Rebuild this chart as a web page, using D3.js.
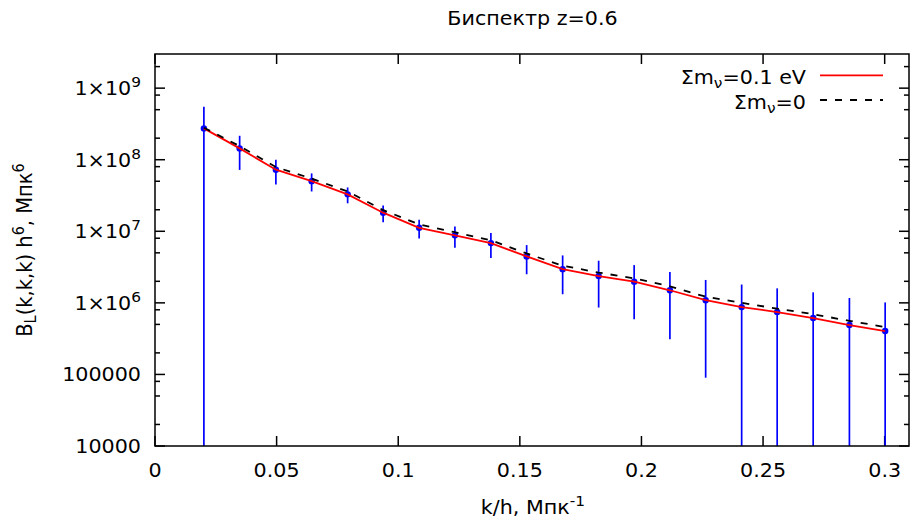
<!DOCTYPE html>
<html>
<head>
<meta charset="utf-8">
<script src="https://cdn.jsdelivr.net/npm/d3@7"></script>
<style>
  body { margin: 0; background: #fff; }
  text { font-family: "DejaVu Sans", sans-serif; fill: #000; }
</style>
</head>
<body>
<div id="chart"></div>
<script>
// k/h values (h/Mpc)
const kValues = [0.0201, 0.0348, 0.0497, 0.0644, 0.0792, 0.0938, 0.1086, 0.1233, 0.1381, 0.1528,
                 0.1676, 0.1824, 0.1970, 0.2117, 0.2264, 0.2412, 0.2558, 0.2706, 0.2855, 0.3002];
// bispectrum, sum m_nu = 0.1 eV
const bispecNu = [2.74e8, 1.44e8, 7.25e7, 5.02e7, 3.28e7, 1.82e7, 1.12e7, 8.77e6, 6.84e6, 4.46e6,
                  2.96e6, 2.37e6, 1.98e6, 1.50e6, 1.09e6, 8.73e5, 7.44e5, 6.13e5, 4.90e5, 4.04e5];
// error bars (symmetric, +-)
const bispecNuErr = [2.76e8, 7.2e7, 2.75e7, 1.42e7, 8.2e6, 4.8e6, 3.3e6, 2.9e6, 2.6e6, 1.95e6,
                     1.64e6, 1.51e6, 1.39e6, 1.19e6, 1.0e6, 9.3e5, 8.5e5, 7.9e5, 6.8e5, 6.1e5];
// bispectrum, sum m_nu = 0
const bispecZero = [2.80e8, 1.55e8, 7.9e7, 5.45e7, 3.6e7, 1.98e7, 1.25e7, 9.7e6, 7.5e6, 4.9e6,
                    3.3e6, 2.65e6, 2.2e6, 1.7e6, 1.22e6, 1.0e6, 8.3e5, 6.95e5, 5.6e5, 4.6e5];

const xTicks = [0, 0.05, 0.1, 0.15, 0.2, 0.25, 0.3];
const xTickLabels = ["0", "0.05", "0.1", "0.15", "0.2", "0.25", "0.3"];
const yTicks = [1e4, 1e5, 1e6, 1e7, 1e8, 1e9];
const yTickLabels = [["10000", ""], ["100000", ""], ["1×10", "6"], ["1×10", "7"], ["1×10", "8"], ["1×10", "9"]];
const yMinorMult = [2, 5, 8];

const width = 911, height = 519;
const mLeft = 155, mRight = 909, mTop = 54, mBottom = 446;
const sx = 1.06; // text looks a little horizontally stretched in the reference
const fs = 19.5, fsSmall = 14.5;

const svg = d3.select("#chart").append("svg")
  .attr("width", width).attr("height", height);

const x = d3.scaleLinear().domain([0, 0.31]).range([mLeft, mRight]);
const y = d3.scaleLog().domain([1e4, 3e9]).range([mBottom, mTop]);

const addText = (g, px, py, anchor, size) =>
  g.append("text")
    .attr("transform", `translate(${px},${py}) scale(${sx},1)`)
    .attr("text-anchor", anchor)
    .style("font-size", size + "px");

// minor ticks list
const yMinor = [];
yTicks.concat([1e10]).forEach(t => yMinorMult.forEach(m => {
  const v = t * m / 10;
  if (v > 1e4 && v < 3e9) yMinor.push(v);
}));

const grid = svg.append("g");
// y ticks (left and right, inward)
yTicks.forEach(t => {
  grid.append("line").attr("x1", mLeft).attr("x2", mLeft + 10).attr("y1", y(t)).attr("y2", y(t));
  grid.append("line").attr("x1", mRight).attr("x2", mRight - 10).attr("y1", y(t)).attr("y2", y(t));
});
yMinor.forEach(t => {
  grid.append("line").attr("x1", mLeft).attr("x2", mLeft + 5).attr("y1", y(t)).attr("y2", y(t));
  grid.append("line").attr("x1", mRight).attr("x2", mRight - 5).attr("y1", y(t)).attr("y2", y(t));
});
xTicks.forEach(t => {
  grid.append("line").attr("x1", x(t)).attr("x2", x(t)).attr("y1", mBottom).attr("y2", mBottom - 10);
  grid.append("line").attr("x1", x(t)).attr("x2", x(t)).attr("y1", mTop).attr("y2", mTop + 10);
});
grid.selectAll("line").attr("stroke", "#000").attr("stroke-width", 1.5);

// tick labels
yTicks.forEach((t, i) => {
  const lab = addText(svg, 141, y(t) + 7, "end", fs);
  lab.append("tspan").text(yTickLabels[i][0]);
  if (yTickLabels[i][1]) lab.append("tspan").attr("dy", -8).style("font-size", fsSmall + "px").text(yTickLabels[i][1]);
});
xTicks.forEach((t, i) => {
  addText(svg, x(t), 477, "middle", fs).text(xTickLabels[i]);
});

// clip
svg.append("clipPath").attr("id", "plot-clip")
  .append("rect").attr("x", mLeft).attr("y", mTop).attr("width", mRight - mLeft).attr("height", mBottom - mTop);
const plot = svg.append("g").attr("clip-path", "url(#plot-clip)");

// error bars
plot.selectAll(".err").data(kValues).enter().append("line")
  .attr("class", "err")
  .attr("x1", d => x(d)).attr("x2", d => x(d))
  .attr("y1", (d, i) => y(bispecNu[i] + bispecNuErr[i]))
  .attr("y2", (d, i) => {
    const lo = bispecNu[i] - bispecNuErr[i];
    return lo > 0 ? y(lo) : mBottom + 5;
  })
  .attr("stroke", "#0000ff").attr("stroke-width", 1.7);

plot.selectAll(".pt").data(kValues).enter().append("circle")
  .attr("class", "pt")
  .attr("cx", d => x(d)).attr("cy", (d, i) => y(bispecNu[i]))
  .attr("r", 3.2).attr("fill", "#0000ff");

const line = d3.line().x(d => x(d[0])).y(d => y(d[1]));

plot.append("path")
  .datum(kValues.map((k, i) => [k, bispecNu[i]]))
  .attr("d", line).attr("fill", "none")
  .attr("stroke", "#ff0000").attr("stroke-width", 1.8);

plot.append("path")
  .datum(kValues.map((k, i) => [k, bispecZero[i]]))
  .attr("d", line).attr("fill", "none")
  .attr("stroke", "#000").attr("stroke-width", 1.8).attr("stroke-dasharray", "7,8");

// border
svg.append("rect").attr("x", mLeft).attr("y", mTop).attr("width", mRight - mLeft).attr("height", mBottom - mTop)
  .attr("fill", "none").attr("stroke", "#000").attr("stroke-width", 1.5);

// legend
const lg = svg.append("g");
const l1 = addText(lg, 806, 84, "end", fs);
l1.append("tspan").text("Σm");
l1.append("tspan").attr("dy", 4).style("font-size", fsSmall + "px").text("ν");
l1.append("tspan").attr("dy", -4).text("=0.1 eV");
lg.append("line").attr("x1", 820).attr("x2", 883).attr("y1", 75.3).attr("y2", 75.3)
  .attr("stroke", "#ff0000").attr("stroke-width", 1.8);
const l2 = addText(lg, 806, 108.5, "end", fs);
l2.append("tspan").text("Σm");
l2.append("tspan").attr("dy", 4).style("font-size", fsSmall + "px").text("ν");
l2.append("tspan").attr("dy", -4).text("=0");
lg.append("line").attr("x1", 820).attr("x2", 883).attr("y1", 100).attr("y2", 100)
  .attr("stroke", "#000").attr("stroke-width", 1.8).attr("stroke-dasharray", "7,8");

// title and axis labels
addText(svg, 532.5, 25, "middle", fs).text("Биспектр z=0.6");

const xl = addText(svg, 533, 514, "middle", fs);
xl.append("tspan").text("k/h, Мпк");
xl.append("tspan").attr("dy", -8).style("font-size", fsSmall + "px").text("-1");

const yl = svg.append("text")
  .attr("transform", `translate(32,250) rotate(-90) scale(1,${sx})`)
  .attr("text-anchor", "middle").style("font-size", fs + "px");
yl.append("tspan").text("B");
yl.append("tspan").attr("dy", 4).style("font-size", fsSmall + "px").text("L");
yl.append("tspan").attr("dy", -4).text("(k,k,k) h");
yl.append("tspan").attr("dy", -8).style("font-size", fsSmall + "px").text("6");
yl.append("tspan").attr("dy", 8).text(", Мпк");
yl.append("tspan").attr("dy", -8).style("font-size", fsSmall + "px").text("6");
</script>
</body>
</html>
